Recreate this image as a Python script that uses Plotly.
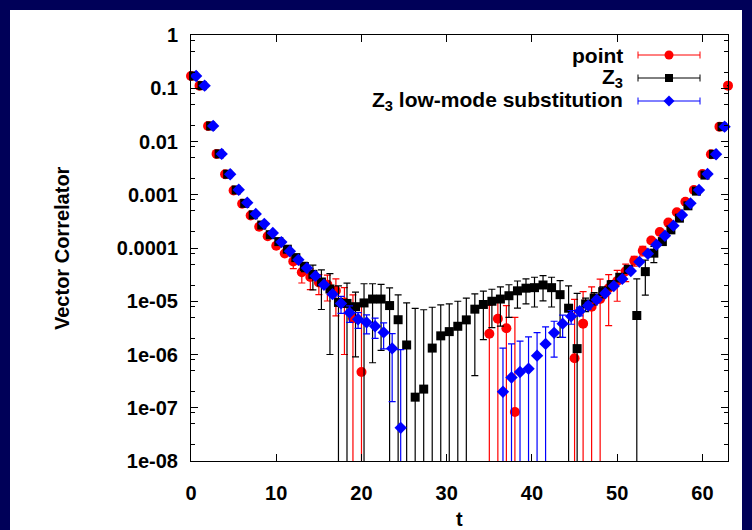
import plotly.graph_objects as go

# Euclidean time slices
t = list(range(64))

# point-source correlator
point_val = [0.170, 0.112, 0.0196, 5.85e-3, 2.43e-3, 1.20e-3, 6.76e-4, 4.07e-4, 2.51e-4, 1.66e-4,
             1.10e-4, 7.9e-5, 5.6e-5, 3.5e-5, 2.85e-5, 2.25e-5, 2.05e-5, 1.58e-5, 9.5e-6, 4.8e-6,
             4.7e-7, None, None, None, None, None, None, None, None, None,
             None, None, None, None, None, 2.45e-6, 4.7e-6, 3.1e-6, 8.3e-8, None,
             None, None, None, None, None, 8.5e-7, 3.8e-6, 7.9e-6, 1.1e-5, 1.75e-5,
             2.4e-5, 3.67e-5, 5.75e-5, 8.9e-5, 1.38e-4, 2.0e-4, 3.0e-4, 4.7e-4, 7.4e-4, 1.23e-3,
             2.45e-3, 5.75e-3, 0.019, 0.112]
point_err = [0, 0, 0, 0, 0, 0, 0, 0, 0, 2e-6,
             3e-6, 5e-6, 1.5e-5, 1.3e-5, 1.2e-5, 9.2e-6, 1.04e-5, 1.05e-5, 8.5e-6, 8.4e-6,
             7.5e-6, 0, 0, 0, 0, 0, 0, 0, 0, 0,
             0, 0, 0, 0, 0, 5.9e-6, 5.5e-6, 5.2e-6, 4.9e-6, 0,
             0, 0, 0, 0, 0, 1.0e-5, 1.13e-5, 1.07e-5, 1.5e-5, 1.4e-5,
             1.4e-5, 1.33e-5, 1.2e-5, 1.8e-5, 1.2e-5, 1.0e-5, 8e-6, 6e-6, 0, 0,
             0, 0, 0, 0]

# Z3 wall source
z3_val = [0.170, 0.112, 0.0196, 5.85e-3, 2.43e-3, 1.23e-3, 6.9e-4, 4.2e-4, 2.7e-4, 1.78e-4,
          1.32e-4, 9.5e-5, 6.6e-5, 4.5e-5, 3.2e-5, 2.3e-5, 1.7e-5, 9.5e-6, 9.1e-6, 7.9e-6,
          9.3e-6, 1.10e-5, 1.10e-5, 8.3e-6, 4.5e-6, 1.51e-6, 1.58e-7, 2.24e-7, 1.32e-6, 2.24e-6,
          2.69e-6, 3.39e-6, 4.47e-6, 7.1e-6, 8.7e-6, 1.0e-5, 1.1e-5, 1.27e-5, 1.57e-5, 1.76e-5,
          1.8e-5, 2.02e-5, 1.8e-5, 1.33e-5, 7.4e-6, 1.29e-6, 8.9e-6, 1.15e-5, 1.51e-5, 2.04e-5,
          2.82e-5, 3.98e-5, 5.4e-6, 3.6e-5, 8.0e-5, 1.32e-4, 2.19e-4, 3.63e-4, 6.2e-4, 1.17e-3,
          2.34e-3, 5.75e-3, 0.019, 0.112]
z3_err = [0, 0, 0, 0, 0, 0, 0, 0, 0, 0,
          5e-6, 5e-6, 6e-6, 9e-6, 1.56e-5, 1.6e-5, 1.6e-5, 1.0e-5, 1.28e-5, 7.0e-6,
          1.2e-5, 1.03e-5, 9.8e-6, 9.5e-6, 8.7e-6, 7.8e-6, 7.2e-6, 6.7e-6, 6.4e-6, 6.3e-6,
          6.2e-6, 6.6e-6, 7.0e-6, 6.7e-6, 6.8e-6, 6.8e-6, 7.6e-6, 7.7e-6, 8.3e-6, 8.7e-6,
          1.02e-5, 1.0e-5, 1.02e-5, 1.12e-5, 1.21e-5, 1.28e-5, 2.5e-6, 3e-6, 3.5e-6, 4e-6,
          5e-6, 6e-6, 2.1e-5, 2.3e-5, 2.7e-5, 1e-5, 6e-6, 5e-6, 0, 0,
          0, 0, 0, 0]

# Z3 with low-mode substitution
lm_val = [0.170, 0.112, 0.0196, 5.85e-3, 2.43e-3, 1.24e-3, 7.1e-4, 4.37e-4, 2.84e-4, 1.91e-4,
          1.29e-4, 8.7e-5, 6.0e-5, 4.2e-5, 2.99e-5, 2.04e-5, 1.36e-5, 9.1e-6, 6.1e-6, 4.6e-6,
          4.0e-6, 3.4e-6, 2.6e-6, 1.3e-6, 4.2e-8, None, None, None, None, None,
          None, None, None, None, None, None, 2.0e-7, 3.7e-7, 4.7e-7, 5.4e-7,
          9.5e-7, 1.58e-6, 2.55e-6, 3.8e-6, 5.2e-6, 6.5e-6, 8.3e-6, 1.07e-5, 1.41e-5, 1.93e-5,
          2.63e-5, 3.7e-5, 5.5e-5, 7.8e-5, 1.15e-4, 1.7e-4, 2.63e-4, 4.17e-4, 6.9e-4, 1.23e-3,
          2.45e-3, 5.75e-3, 0.019, 0.112]
lm_err = [0, 0, 0, 0, 0, 0, 0, 0, 0, 0,
          0, 0, 0, 0, 1e-6, 1.5e-6, 1.5e-6, 3.2e-6, 2.1e-6, 1.5e-6,
          1.55e-6, 1.4e-6, 1.33e-6, 1.17e-6, 1.19e-6, 0, 0, 0, 0, 0,
          0, 0, 0, 0, 0, 0, 1.12e-6, 1.21e-6, 1.31e-6, 1.6e-6,
          1.62e-6, 1.72e-6, 1.66e-6, 1.7e-6, 1.5e-6, 1.2e-6, 1.2e-6, 1.2e-6, 1.2e-6, 1.2e-6,
          1.5e-6, 2e-6, 2.5e-6, 3e-6, 4e-6, 5e-6, 0, 0, 0, 0,
          0, 0, 0, 0]

series_names = ["point", "Z<sub>3</sub>", "Z<sub>3</sub> low-mode substitution"]

ytick_vals = [1, 0.1, 0.01, 1e-3, 1e-4, 1e-5, 1e-6, 1e-7, 1e-8]
ytick_text = ["1", "0.1", "0.01", "0.001", "0.0001", "1e-05", "1e-06", "1e-07", "1e-08"]
xtick_vals = [0, 10, 20, 30, 40, 50, 60]

# ---------------------------------------------------------------- layout constants
W, H = 752, 530
ML, MR, MT, MB = 191, 24, 35, 69
PW, PH = W - ML - MR, H - MT - MB
X_MAX = 63
NAVY = "#000058"
FONT = "Liberation Sans, Arial, Helvetica, sans-serif"
FS = 20
KEY_FS = 21

styles = [
    dict(color="#ff0000", symbol="circle", size=10, shift=0.0),
    dict(color="#000000", symbol="square", size=9, shift=0.3),
    dict(color="#0000ff", symbol="diamond", size=9.5, shift=0.6),
]
data = [(point_val, point_err), (z3_val, z3_err), (lm_val, lm_err)]


def px(xp):
    return (xp - ML) / PW


def py(yp):
    return (H - MB - yp) / PH


fig = go.Figure()
for (vals, errs), st in zip(data, styles):
    xs = [ti + st["shift"] for ti in t]
    # error bars, clipped to the frame
    fig.add_trace(go.Scatter(
        x=xs, y=vals, mode="markers",
        marker=dict(size=0.1, color=st["color"], opacity=0),
        error_y=dict(type="data", array=errs, visible=True, color=st["color"],
                     thickness=1.2, width=3.5),
        cliponaxis=True, showlegend=False, hoverinfo="skip"))
    # symbols drawn over the frame edge, like gnuplot points
    keep = [i for i, x in enumerate(xs) if x <= X_MAX]
    fig.add_trace(go.Scatter(
        x=[xs[i] for i in keep], y=[vals[i] for i in keep], mode="markers",
        marker=dict(symbol=st["symbol"], size=st["size"], color=st["color"],
                    line=dict(width=0)),
        cliponaxis=False, showlegend=False))

axis_common = dict(
    showline=True, linecolor="black", linewidth=1, mirror="ticks",
    ticks="inside", ticklen=7, tickwidth=1, tickcolor="black",
    showgrid=False, zeroline=False,
    tickfont=dict(family=FONT, size=FS, color="black", weight="bold"),
)

minor_vals = [k * 10.0 ** e for e in range(-8, 0) for k in (2, 5, 8)]

fig.update_xaxes(range=[0, X_MAX], tickvals=xtick_vals, ticklabelstandoff=14,
                 **axis_common)
fig.update_yaxes(type="log", range=[-8, 0], tickvals=ytick_vals, ticktext=ytick_text,
                 ticklabelstandoff=8,
                 minor=dict(tickvals=minor_vals, ticks="inside", ticklen=4,
                            tickcolor="black", tickwidth=1, showgrid=False),
                 **axis_common)

shapes = [dict(type="rect", xref="paper", yref="paper", layer="below",
               x0=px(10), x1=px(742), y0=py(H + 5), y1=py(10),
               fillcolor="white", line=dict(width=0))]

annotations = [
    dict(text="Vector Correlator", textangle=-90, x=px(62), y=py((MT + H - MB) / 2),
         xref="paper", yref="paper", showarrow=False, xanchor="center", yanchor="middle",
         font=dict(family=FONT, size=FS, color="black", weight="bold")),
    dict(text="t", x=px(ML + PW / 2), y=py(519), xref="paper", yref="paper",
         showarrow=False, xanchor="center", yanchor="middle",
         font=dict(family=FONT, size=FS, color="black", weight="bold")),
]

# key: right-aligned labels, then an error-bar sample with the symbol
key_rows = [55, 78, 101]
KX0, KX1, KXM, KTX = 638, 700, 669, 625
for name, st, yr in zip(series_names, styles, key_rows):
    annotations.append(dict(
        text=name, x=px(KTX), y=py(yr), xref="paper", yref="paper", showarrow=False,
        xanchor="right", yanchor="middle",
        font=dict(family=FONT, size=KEY_FS, color="black", weight="bold")))
    c = st["color"]
    shapes.append(dict(type="line", xref="paper", yref="paper", x0=px(KX0), x1=px(KX1),
                       y0=py(yr), y1=py(yr), line=dict(color=c, width=1)))
    for xe in (KX0, KX1):
        shapes.append(dict(type="line", xref="paper", yref="paper", x0=px(xe), x1=px(xe),
                           y0=py(yr - 3.5), y1=py(yr + 3.5), line=dict(color=c, width=1)))
    if st["symbol"] == "circle":
        r = 4.5
        shapes.append(dict(type="circle", xref="paper", yref="paper",
                           x0=px(KXM - r), x1=px(KXM + r), y0=py(yr + r), y1=py(yr - r),
                           fillcolor=c, line=dict(width=0)))
    elif st["symbol"] == "square":
        r = 4
        shapes.append(dict(type="rect", xref="paper", yref="paper",
                           x0=px(KXM - r), x1=px(KXM + r), y0=py(yr + r), y1=py(yr - r),
                           fillcolor=c, line=dict(width=0)))
    else:
        r = 5.5
        path = (f"M {px(KXM)},{py(yr - r)} L {px(KXM + r)},{py(yr)} "
                f"L {px(KXM)},{py(yr + r)} L {px(KXM - r)},{py(yr)} Z")
        shapes.append(dict(type="path", xref="paper", yref="paper", path=path,
                           fillcolor=c, line=dict(width=0)))

fig.update_layout(
    width=W, height=H,
    margin=dict(l=ML, r=MR, t=MT, b=MB),
    paper_bgcolor=NAVY, plot_bgcolor="white",
    showlegend=False,
    shapes=shapes, annotations=annotations,
    font=dict(family=FONT, size=FS, color="black"),
)

fig.write_html("out.html")
